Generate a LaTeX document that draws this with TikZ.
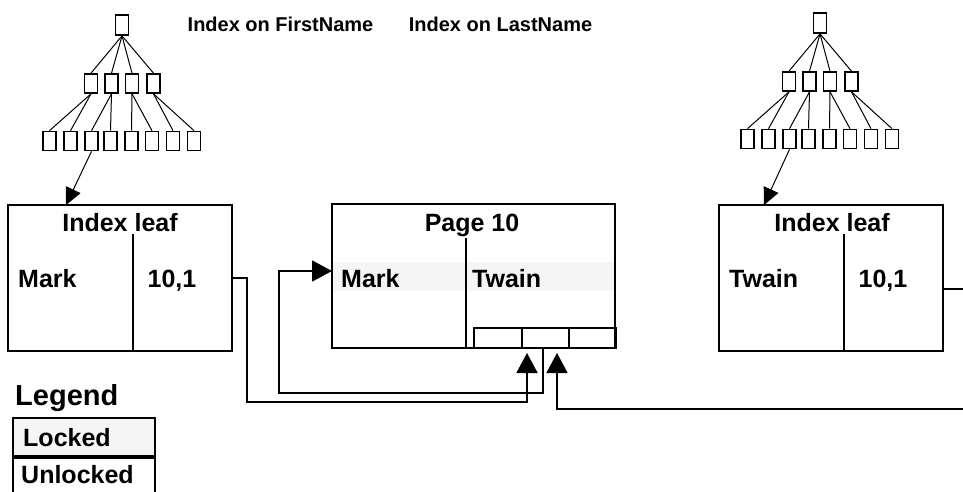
\documentclass[tikz,border=0pt]{standalone}
\usepackage{fontspec}
\setmainfont{Liberation Sans}
\usetikzlibrary{arrows.meta}
\newcommand{\idxtree}[1]{%
  \node[tb,minimum height=20pt] (#1r) at (122,25) {};
  \foreach \i/\x in {1/91,2/111.5,3/132,4/153.5} \node[tb] (#1m\i) at (\x,83.5) {};
  \foreach \i/\x in {1/49.5,2/70.5,3/91.5,4/110.5,5/131.5,6/152,7/173,8/194} \node[tb] (#1b\i) at (\x,141) {};
  \foreach \i in {1,...,4} \draw[tl] (#1r.south) -- (#1m\i.north);
  \draw[tl] (#1m1.south) -- (#1b1.north);
  \draw[tl] (#1m1.south) -- (#1b2.north);
  \draw[tl] (#1m2.south) -- (#1b3.north);
  \draw[tl] (#1m2.south) -- (#1b4.north);
  \draw[tl] (#1m3.south) -- (#1b5.north);
  \draw[tl] (#1m3.south) -- (#1b6.north);
  \draw[tl] (#1m4.south) -- (#1b7.north);
  \draw[tl] (#1m4.south) -- (#1b8.north);
}
\begin{document}
\begin{tikzpicture}[x=1pt,y=-1pt,
  tb/.style={draw,line width=1.7pt,minimum width=13pt,minimum height=19pt,inner sep=0pt},
  tl/.style={line width=1pt},
  box/.style={draw,line width=2pt,inner sep=0pt},
  div/.style={line width=2pt},
  conn/.style={line width=1.8pt},
  lbl/.style={font=\fontsize{25}{30}\selectfont\bfseries,inner sep=0pt},
  ttl/.style={font=\fontsize{20}{24}\selectfont\bfseries,inner sep=0pt},
  tip/.style={-{Triangle[width=21pt,length=20pt]}},
  ltip/.style={-{Triangle[width=16pt,length=17pt]}},
]
\useasboundingbox (0,0) rectangle (963,492);
\clip (0,0) rectangle (963,492);

% trees
\idxtree{A}
\begin{scope}[shift={(698,-2)}]
\idxtree{B}
\end{scope}

% titles
\node[ttl,anchor=base] (t1) at (280.5,32) {Index on FirstName};
\node[ttl,anchor=base] (t2) at (500.5,32) {Index on LastName};

% left index leaf
\node[box,minimum width=224pt,minimum height=146pt] (leafA) at (120,278) {};
\draw[div] (133,234) -- (133,351);
\node[lbl,anchor=base] (leafAt) at (120,231) {Index leaf};
\node[lbl,anchor=base west] (leafAk) at (18,287) {Mark};
\node[lbl,anchor=base] (leafAv) at (172,287) {10,1};

% page 10
\fill[black!4] (333,262) rectangle (614,291);
\node[box,minimum width=283pt,minimum height=144pt] (page) at (473.5,276) {};
\draw[div] (466,238) -- (466,348);
\node[lbl,anchor=base] (paget) at (472,231) {Page 10};
\node[lbl,anchor=base west] (pagek) at (341,287) {Mark};
\node[lbl,anchor=base west] (pagev) at (472,287) {Twain};
\node[box,minimum width=48pt,minimum height=20pt] (s1) at (498,338) {};
\node[box,minimum width=47pt,minimum height=20pt] (s2) at (545.5,338) {};
\node[box,minimum width=47pt,minimum height=20pt] (s3) at (592.5,338) {};

% right index leaf
\node[box,minimum width=224pt,minimum height=146pt] (leafB) at (831,278) {};
\draw[div] (844,234) -- (844,351);
\node[lbl,anchor=base] (leafBt) at (832,231) {Index leaf};
\node[lbl,anchor=base west] (leafBk) at (729,287) {Twain};
\node[lbl,anchor=base] (leafBv) at (883,287) {10,1};

% tree arrows
\coordinate (tipA) at (66,205);
\draw[tl,ltip] (Ab3.south) -- (tipA);
\coordinate (tipB) at (764,205);
\draw[tl,ltip] (Bb3.south) -- (tipB);

% connectors
\coordinate (t1) at (527,353);
\draw[conn,tip] (leafA.east) -- (247,278) -- (247,402) -- (527,402) -- (t1);
\coordinate (t2) at (332,271);
\draw[conn,tip] ([xshift=-2.5pt]s2.south) -- ++(0,44) -| (279,271) -- (t2);
\coordinate (eR) at (963,289);
\draw[conn] ([yshift=-11pt]leafB.east) -- (eR);
\coordinate (eR2) at (963,409);
\coordinate (t3) at (557,353);
\draw[conn,tip] (eR2) -- (557,409) -- (t3);

% legend
\node[anchor=base west,inner sep=0pt,font=\fontsize{29}{34}\selectfont\bfseries] (leg) at (15,405) {Legend};
\node[box,fill=black!4,minimum width=142pt,minimum height=38pt] (lk) at (84,437) {};
\node[box,minimum width=142pt,minimum height=44pt,anchor=north] (ul) at (lk.south) {};
\node[lbl,anchor=base west] (lkt) at (23,446) {Locked};
\node[lbl,anchor=base west] (ult) at (21,483) {Unlocked};
\end{tikzpicture}
\end{document}
